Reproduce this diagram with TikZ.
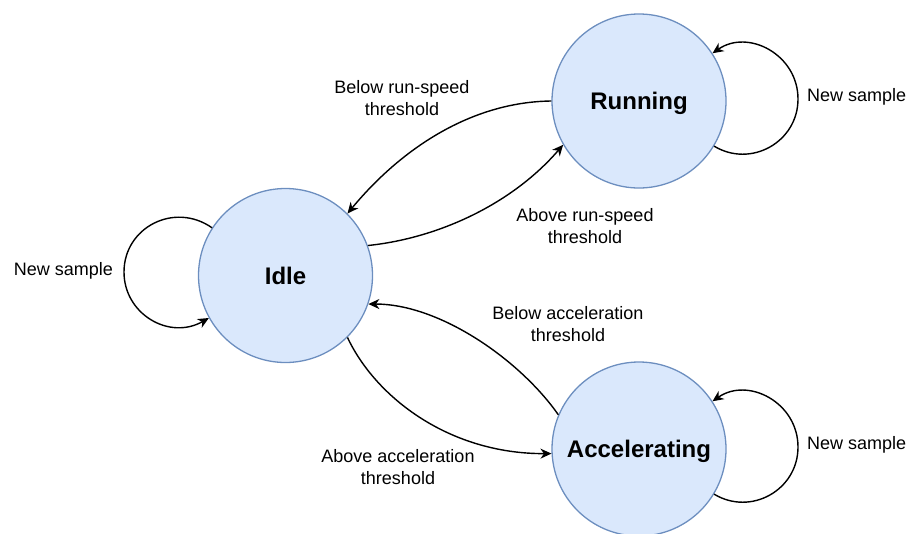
\documentclass[tikz,border=0pt]{standalone}
\usepackage{fontspec}
\setmainfont{Liberation Sans}
\usetikzlibrary{arrows.meta}
\definecolor{stfill}{HTML}{DAE8FC}
\definecolor{stdraw}{HTML}{6C8EBF}
\tikzset{
  state/.style={circle, minimum size=174pt, inner sep=0pt, fill=stfill, draw=stdraw, line width=1.3pt,
    text height=17.2pt, text depth=0pt,
    font=\fontsize{24}{28}\selectfont\bfseries},
  lbl/.style={align=center, inner sep=0pt, font=\fontsize{18}{21.6}\selectfont},
  edge/.style={line width=1.4pt, -{Stealth[length=11pt,width=10pt,inset=3.5pt]}},
}
\begin{document}
\begin{tikzpicture}[x=1pt,y=-1pt]
\useasboundingbox (0,0) rectangle (910,533);
\node[state] (run) at (639,101) {Running};
\node[state] (idle) at (285.5,275.5) {Idle};
\node[state] (acc) at (639,449) {Accelerating};

% transitions
\draw[edge] (run.180) .. controls (470,102) and (400,150) .. (idle.45);
\draw[edge] (idle.20) .. controls (440,238) and (513,203) .. (run.210);
\draw[edge] (acc.157) .. controls (520,360) and (440,304) .. (idle.-19);
\draw[edge] (idle.-45) .. controls (376,398) and (450,454) .. (acc.183);

% self loops
\draw[edge] (run.-31) .. controls (750.8,168.4) and (798,142) .. (798,99)
  .. controls (798,54.6) and (748.1,28.5) .. (run.33);
\draw[edge] (acc.-31) .. controls (750.8,516.4) and (798,490) .. (798,447)
  .. controls (798,402.6) and (748.1,376.5) .. (acc.33);
\draw[edge] (idle.147) .. controls (174.3,201.4) and (124,227.4) .. (124,272)
  .. controls (124,314.1) and (169.3,340.6) .. (idle.209);

% labels
\node[lbl] (l1) at (402,98) {Below run-speed\\threshold};
\node[lbl] (l2) at (585,226) {Above run-speed\\threshold};
\node[lbl] (l3) at (568,324) {Below acceleration\\threshold};
\node[lbl] (l4) at (398,467) {Above acceleration\\threshold};
\node[lbl, anchor=west] (n1) at (807,97) {New sample};
\node[lbl, anchor=west] (n2) at (807,445) {New sample};
\node[lbl, anchor=east] (n3) at (113,271) {New sample};
\end{tikzpicture}
\end{document}
